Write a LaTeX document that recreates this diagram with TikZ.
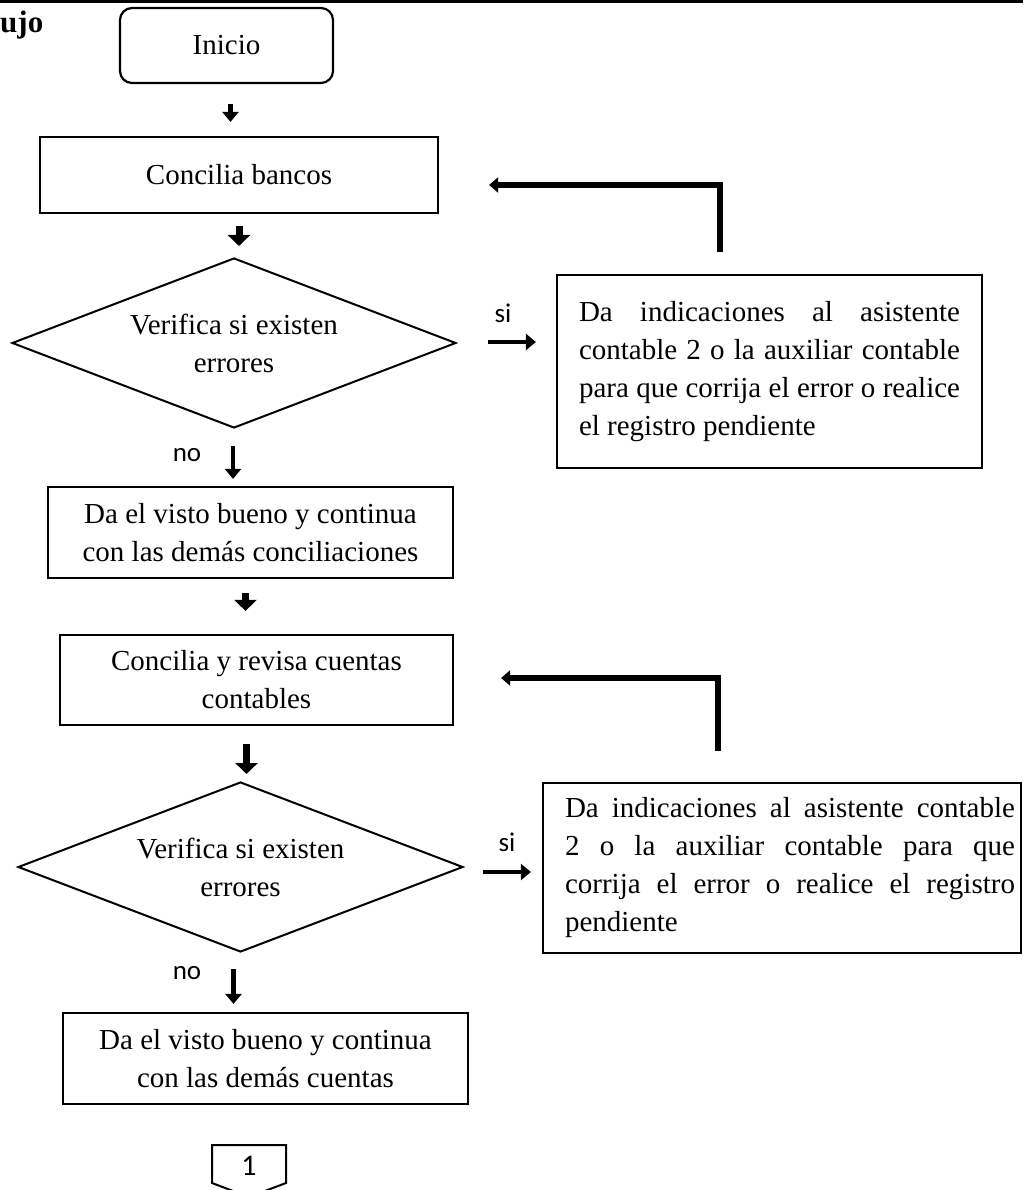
\documentclass[tikz,border=0pt]{standalone}
\usepackage{fontspec}
\setmainfont{Liberation Serif}
\newfontfamily\calibri{Carlito}
\usepackage{tikz}
\usetikzlibrary{calc}
\usetikzlibrary{positioning}
\usetikzlibrary{shapes.geometric}
\usetikzlibrary{arrows.meta}
\tikzset{
	caja/.style={
		rectangle, 
		% fill=black!10,
		draw=black, line width=2.2pt,
		inner sep=0pt,
		align=center,
		font=\fontsize{29}{38}\selectfont},
	inicial/.style={
		caja,
		rounded corners=12pt},
	rombo/.style={
		diamond,
		shape aspect=2.6,
		draw=black, line width=2pt,
		inner sep=0pt,
		align=center,
		font=\fontsize{29}{38}\selectfont},
	nota/.style={
		caja,
		align=justify},
	etiq/.style={font=\calibri\fontsize{27}{32}\selectfont, inner sep=0pt},
	flecha/.style={draw, line width=4.5pt, -{Triangle[length=10pt,width=16pt]}},
	flechota/.style={draw, line width=7pt, -{Triangle[length=11pt,width=22pt]}},
	retorno/.style={draw, line width=6pt, line join=miter, -{Triangle[length=9pt,width=15pt]}},
}
\begin{document}
\begin{tikzpicture}
		[x=1pt, y=-1pt]
		\path[use as bounding box, fill=white] (0,0) rectangle (1023,1190);
		\draw[line width=3pt] (0,2) -- (1023,2);
		\draw[line width=2pt] (555,0) -- (555,3);
		\node[anchor=base west, inner sep=0pt, font=\bfseries\fontsize{31}{36}\selectfont] (titulo) at (0,33) {ujo};
		% columna principal
		\node[inicial, minimum width=213pt, minimum height=75pt] (inicio) at (226.5,45.5) {Inicio};
		\node[caja, minimum width=398pt, minimum height=76pt] (bancos) at (239,175) {Concilia bancos};
		\node[rombo, minimum width=444pt, minimum height=170pt] (verif1) at (234,343) {Verifica si existen\\errores};
		\node[caja, minimum width=405pt, minimum height=91pt] (visto1) at (250.5,532.5) {Da el visto bueno y continua\\con las demás conciliaciones};
		\node[caja, minimum width=393pt, minimum height=90pt] (cuentas) at (256.5,680) {Concilia y revisa cuentas\\contables};
		\node[rombo, minimum width=445pt, minimum height=170pt] (verif2) at (240.5,867) {Verifica si existen\\errores};
		\node[caja, minimum width=405pt, minimum height=91pt] (visto2) at (265.5,1058.5) {Da el visto bueno y continua\\con las demás cuentas};
		% indicaciones
		\node[nota, text width=381pt, inner xsep=22pt, minimum height=193pt] (indic1) at (769.5,371.5) {Da indicaciones al asistente\linebreak contable 2 o la auxiliar contable\linebreak para que corrija el error o realice\linebreak el registro pendiente};
		\node[nota, text width=466pt, inner xsep=6pt, minimum height=170pt] (indic2) at (782,868) {\hspace*{16pt}Da indicaciones al asistente contable\linebreak \hspace*{16pt}2 o la auxiliar contable para que\linebreak \hspace*{16pt}corrija el error o realice el registro\linebreak \hspace*{16pt}pendiente};
		% conector
		\node[etiq, font=\calibri\fontsize{30}{34}\selectfont] (conector) at (249,1166) {1};
		\draw[line width=2pt] (212,1145) -- (286,1145) -- (286,1183) -- (249,1197) -- (212,1183) -- cycle;
		% etiquetas
		\node[etiq] (si1) at (503,313) {si};
		\node[etiq] (no1) at (187,455) {no};
		\node[etiq] (si2) at (507,842) {si};
		\node[etiq] (no2) at (187,973) {no};
		% flechas
		\draw[flecha, shorten <=20pt, shorten >=14pt] ([xshift=4pt]inicio.south) -- ([xshift=4pt]inicio.south |- bancos.north);
		\draw[flechota, shorten <=12pt, shorten >=11pt] (bancos.south) -- (bancos.south |- verif1.north);
		\draw[flecha, shorten <=17pt, shorten >=7pt] ([xshift=-1pt]verif1.south) -- ([xshift=-1pt]verif1.south |- visto1.north);
		\draw[flechota, shorten <=14pt, shorten >=23pt] ([xshift=-5pt]visto1.south) -- ([xshift=-5pt]visto1.south |- cuentas.north);
		\draw[flechota, shorten <=18pt, shorten >=7pt] ([xshift=-10pt]cuentas.south) -- ([xshift=-10pt]cuentas.south |- verif2.north);
		\draw[flecha, shorten <=16pt, shorten >=8pt] ([xshift=-7pt]verif2.south) -- ([xshift=-7pt]verif2.south |- visto2.north);
		\draw[flecha, shorten <=31pt, shorten >=20pt] ([yshift=1pt]verif1.east) -- ([yshift=1pt]verif1.east -| indic1.west);
		\draw[flecha, shorten <=19pt, shorten >=11pt] ([yshift=-5pt]verif2.east) -- ([yshift=-5pt]verif2.east -| indic2.west);
		% retornos
		\coordinate (esq1) at (720,185);
		\coordinate (esq2) at (718,678);
		\draw[retorno, shorten <=22pt, shorten >=50pt] (indic1.north -| esq1) |- (bancos.east |- esq1);
		\draw[retorno, shorten <=31pt, shorten >=47pt] (indic2.north -| esq2) |- (cuentas.east |- esq2);
\end{tikzpicture}
\end{document}
